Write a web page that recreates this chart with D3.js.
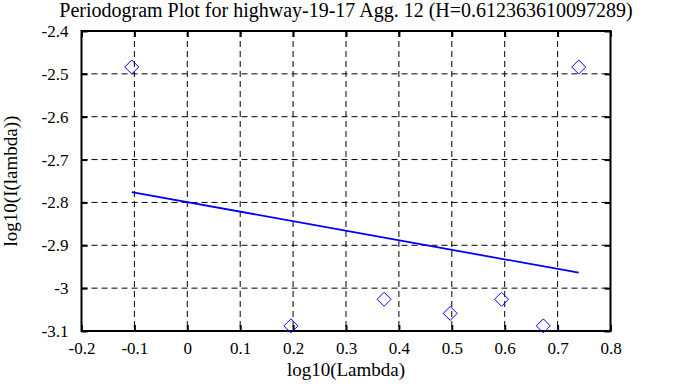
<!DOCTYPE html>
<html>
<head>
<meta charset="utf-8">
<script src="https://cdn.jsdelivr.net/npm/d3@7"></script>
<style>
	body { margin: 0; background: #fff; }
	text { font-family: 'Liberation Serif', 'Times New Roman', serif; fill: #000; }
</style>
</head>
<body>
<div id="chart"></div>
<script>
// periodogram points (log10 lambda, log10 I(lambda))
var logLambda = [-0.105, 0.196, 0.372, 0.497, 0.594, 0.673, 0.740];
var logI = [-2.484, -3.088, -3.026, -3.059, -3.026, -3.088, -2.484];

// fitted line end points
var fitX = [-0.105, 0.740];
var fitY = [-2.776, -2.964];

var xTicks = [-0.2, -0.1, 0, 0.1, 0.2, 0.3, 0.4, 0.5, 0.6, 0.7, 0.8];
var yTicks = [-3.1, -3, -2.9, -2.8, -2.7, -2.6, -2.5, -2.4];

var title = 'Periodogram Plot for highway-19-17 Agg. 12 (H=0.612363610097289)';
var xTitle = 'log10(Lambda)';
var yTitle = 'log10(I(lambda))';

var width = 673, height = 387;
var plotLeft = 81.5, plotRight = 610.5, plotTop = 31, plotBottom = 331;
var tickLen = 6;
var serif = "'Liberation Serif', 'Times New Roman', serif";

var svg = d3.select('#chart').append('svg')
		.attr('width', width)
		.attr('height', height);

var x = d3.scaleLinear().domain([-0.2, 0.8]).range([plotLeft, plotRight]);
var y = d3.scaleLinear().domain([-3.1, -2.4]).range([plotBottom, plotTop]);

/**
 * Dashed grid lines (inner ticks only)
 */
var grid = svg.append('g');

grid.selectAll('.vgrid').data(xTicks.slice(1, -1)).enter().append('line')
	.attr('class', 'vgrid')
	.attr('x1', x).attr('x2', x)
	.attr('y1', plotTop).attr('y2', plotBottom)
	.style('stroke', '#000')
	.style('stroke-width', 1)
	.style('stroke-dasharray', '6,4');

grid.selectAll('.hgrid').data(yTicks.slice(1, -1)).enter().append('line')
	.attr('class', 'hgrid')
	.attr('y1', y).attr('y2', y)
	.attr('x1', plotLeft).attr('x2', plotRight)
	.style('stroke', '#000')
	.style('stroke-width', 1)
	.style('stroke-dasharray', '6,4');

/**
 * Axes: bottom / left with labels, top / right mirror ticks only
 */
var fmt = function(d) { return String(+d.toFixed(1)); };

var xAxis = svg.append('g').attr('transform', 'translate(0,' + plotBottom + ')')
	.call(d3.axisBottom(x).tickValues(xTicks).tickFormat(fmt).tickSizeInner(-tickLen).tickSizeOuter(0).tickPadding(14));
var yAxis = svg.append('g').attr('transform', 'translate(' + plotLeft + ',0)')
	.call(d3.axisLeft(y).tickValues(yTicks).tickFormat(fmt).tickSizeInner(-tickLen).tickSizeOuter(0).tickPadding(13));
var xTop = svg.append('g').attr('transform', 'translate(0,' + plotTop + ')')
	.call(d3.axisTop(x).tickValues(xTicks).tickFormat('').tickSizeInner(-tickLen).tickSizeOuter(0));
var yRight = svg.append('g').attr('transform', 'translate(' + plotRight + ',0)')
	.call(d3.axisRight(y).tickValues(yTicks).tickFormat('').tickSizeInner(-tickLen).tickSizeOuter(0));

[xAxis, yAxis, xTop, yRight].forEach(function(a) {
	a.attr('font-family', serif).attr('font-size', 17);
	a.selectAll('.domain').remove();
	a.selectAll('.tick line').style('stroke', '#000').style('stroke-width', 2);
	a.selectAll('.tick text').style('font-family', serif).style('font-size', '17px').attr('fill', '#000');
});
xAxis.selectAll('.tick text').attr('dy', '0.71em').attr('y', 11);

svg.append('rect')
	.attr('x', plotLeft).attr('y', plotTop)
	.attr('width', plotRight - plotLeft).attr('height', plotBottom - plotTop)
	.style('fill', 'none')
	.style('stroke', '#000')
	.style('stroke-width', 2);

/**
 * Fitted line
 */
var line = d3.line()
	.x(function(d) { return x(d[0]); })
	.y(function(d) { return y(d[1]); });

svg.append('path')
	.datum(d3.zip(fitX, fitY))
	.attr('d', line)
	.style('fill', 'none')
	.style('stroke', '#0000ff')
	.style('stroke-width', 1.8);

/**
 * Diamond markers
 */
var r = 7;
svg.selectAll('.pt').data(d3.zip(logLambda, logI)).enter().append('path')
	.attr('class', 'pt')
	.attr('transform', function(d) { return 'translate(' + x(d[0]) + ',' + y(d[1]) + ')'; })
	.attr('d', 'M0,' + (-r) + 'L' + r + ',0L0,' + r + 'L' + (-r) + ',0Z')
	.style('fill', 'none')
	.style('stroke', '#0000ff')
	.style('stroke-width', 1);

/**
 * Titles
 */
svg.append('text')
	.attr('x', (plotLeft + plotRight) / 2).attr('y', 17)
	.attr('text-anchor', 'middle')
	.style('font-family', serif)
	.style('font-size', '20px')
	.text(title);

svg.append('text')
	.attr('x', (plotLeft + plotRight) / 2).attr('y', 376)
	.attr('text-anchor', 'middle')
	.style('font-family', serif)
	.style('font-size', '19px')
	.text(xTitle);

svg.append('text')
	.attr('transform', 'translate(17,' + (plotTop + plotBottom) / 2 + ') rotate(-90)')
	.attr('text-anchor', 'middle')
	.style('font-family', serif)
	.style('font-size', '19px')
	.text(yTitle);
</script>
</body>
</html>
